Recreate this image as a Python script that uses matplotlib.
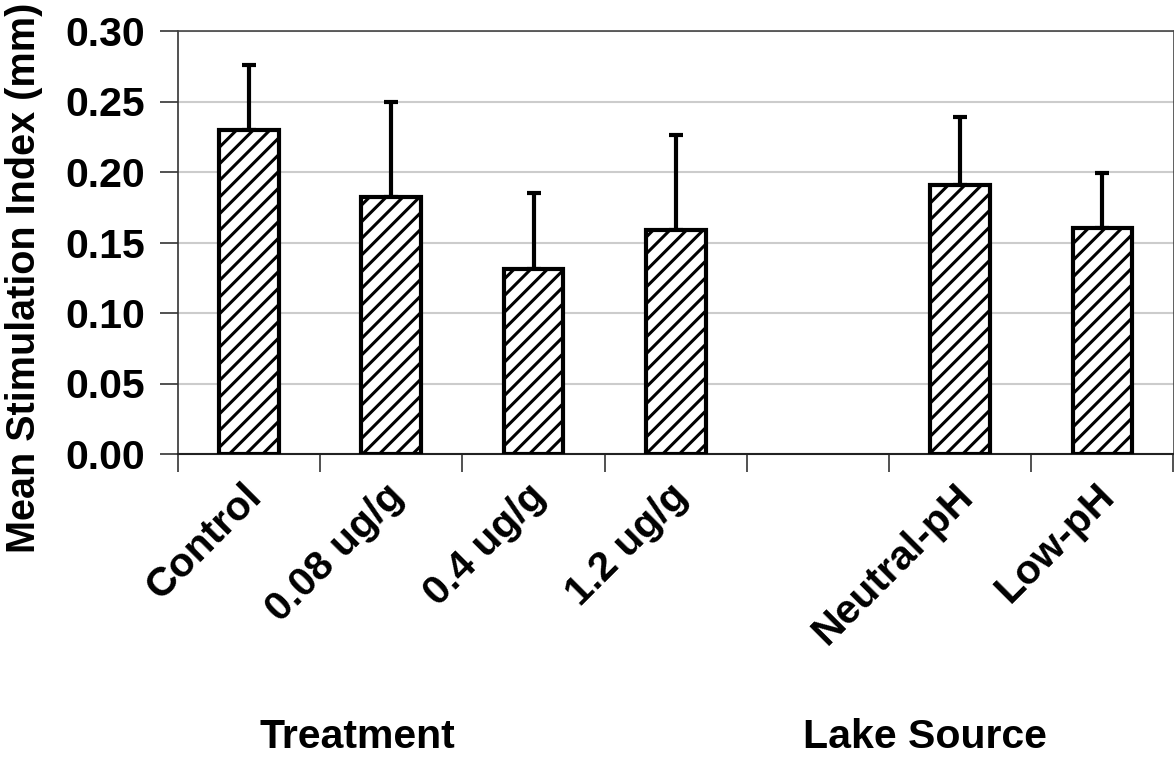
import matplotlib
matplotlib.use("Agg")
import matplotlib.pyplot as plt
from matplotlib.ticker import FixedLocator, NullFormatter

categories = ["Control", "0.08 ug/g", "0.4 ug/g", "1.2 ug/g", "", "Neutral-pH", "Low-pH"]
means = [0.230, 0.182, 0.131, 0.159, None, 0.191, 0.160]
errors = [0.046, 0.068, 0.054, 0.067, None, 0.048, 0.039]
group_labels = ["Treatment", "Lake Source"]
yticks = [0.00, 0.05, 0.10, 0.15, 0.20, 0.25, 0.30]

plt.rcParams['font.family'] = ['Liberation Sans', 'DejaVu Sans']
plt.rcParams['font.weight'] = 'bold'
plt.rcParams['hatch.linewidth'] = 2.2

FS = 29.5

fig = plt.figure(figsize=(11.74, 7.6), dpi=100)
ax = fig.add_axes([178/1174, 1 - 454/760, (1173.5 - 178)/1174, (454 - 31)/760])

xs = [i for i, m in enumerate(means) if m is not None]
vals = [means[i] for i in xs]
errs = [errors[i] for i in xs]

ax.bar(xs, vals, width=0.42, color='white', edgecolor='black', linewidth=3.0,
       hatch='//', zorder=3)
ax.errorbar(xs, vals, yerr=[[0]*len(errs), errs], fmt='none', ecolor='black',
            elinewidth=3.0, capsize=5, capthick=3.0, zorder=2)

ax.set_xlim(-0.5, len(categories) - 0.5)
ax.set_ylim(0, 0.30)
ax.set_yticks(yticks)
ax.set_yticklabels([f"{t:.2f}" for t in yticks], fontsize=FS, fontweight='bold')
ax.yaxis.grid(True, color='#cccccc', linewidth=1.5, zorder=0)
ax.set_axisbelow(True)

ax.set_xticks(range(len(categories)))
ax.set_xticklabels([])
ax.xaxis.set_minor_locator(FixedLocator([i - 0.5 for i in range(len(categories) + 1)]))
ax.xaxis.set_minor_formatter(NullFormatter())
ax.tick_params(axis='x', which='major', length=0)
ax.tick_params(axis='x', which='minor', length=13, width=1.2, direction='out', color='#333333')
ax.tick_params(axis='y', length=13, width=1.2, direction='out', color='#333333', pad=11)

for i, lab in enumerate(categories):
    if lab:
        ax.text(i - 0.05, -0.016, lab, rotation=45, ha='right', va='top',
                rotation_mode='anchor', fontsize=FS, fontweight='bold',
                transform=ax.transData, clip_on=False)

ax.spines['top'].set_color('#444444')
ax.spines['right'].set_color('#444444')
ax.spines['top'].set_linewidth(1.2)
ax.spines['right'].set_linewidth(1.2)
ax.spines['left'].set_color('#333333')
ax.spines['bottom'].set_color('#222222')
ax.spines['left'].set_linewidth(1.2)
ax.spines['bottom'].set_linewidth(1.5)

fig.text(24/1174, 1 - 278/760, "Mean Stimulation Index (mm)", rotation=90,
         ha='center', va='center', fontsize=28.5, fontweight='bold')
fig.text(357/1174, 1 - 737/760, group_labels[0], ha='center', va='center',
         fontsize=FS, fontweight='bold')
fig.text(925/1174, 1 - 737/760, group_labels[1], ha='center', va='center',
         fontsize=FS, fontweight='bold')

fig.savefig("out.png", dpi=100)
